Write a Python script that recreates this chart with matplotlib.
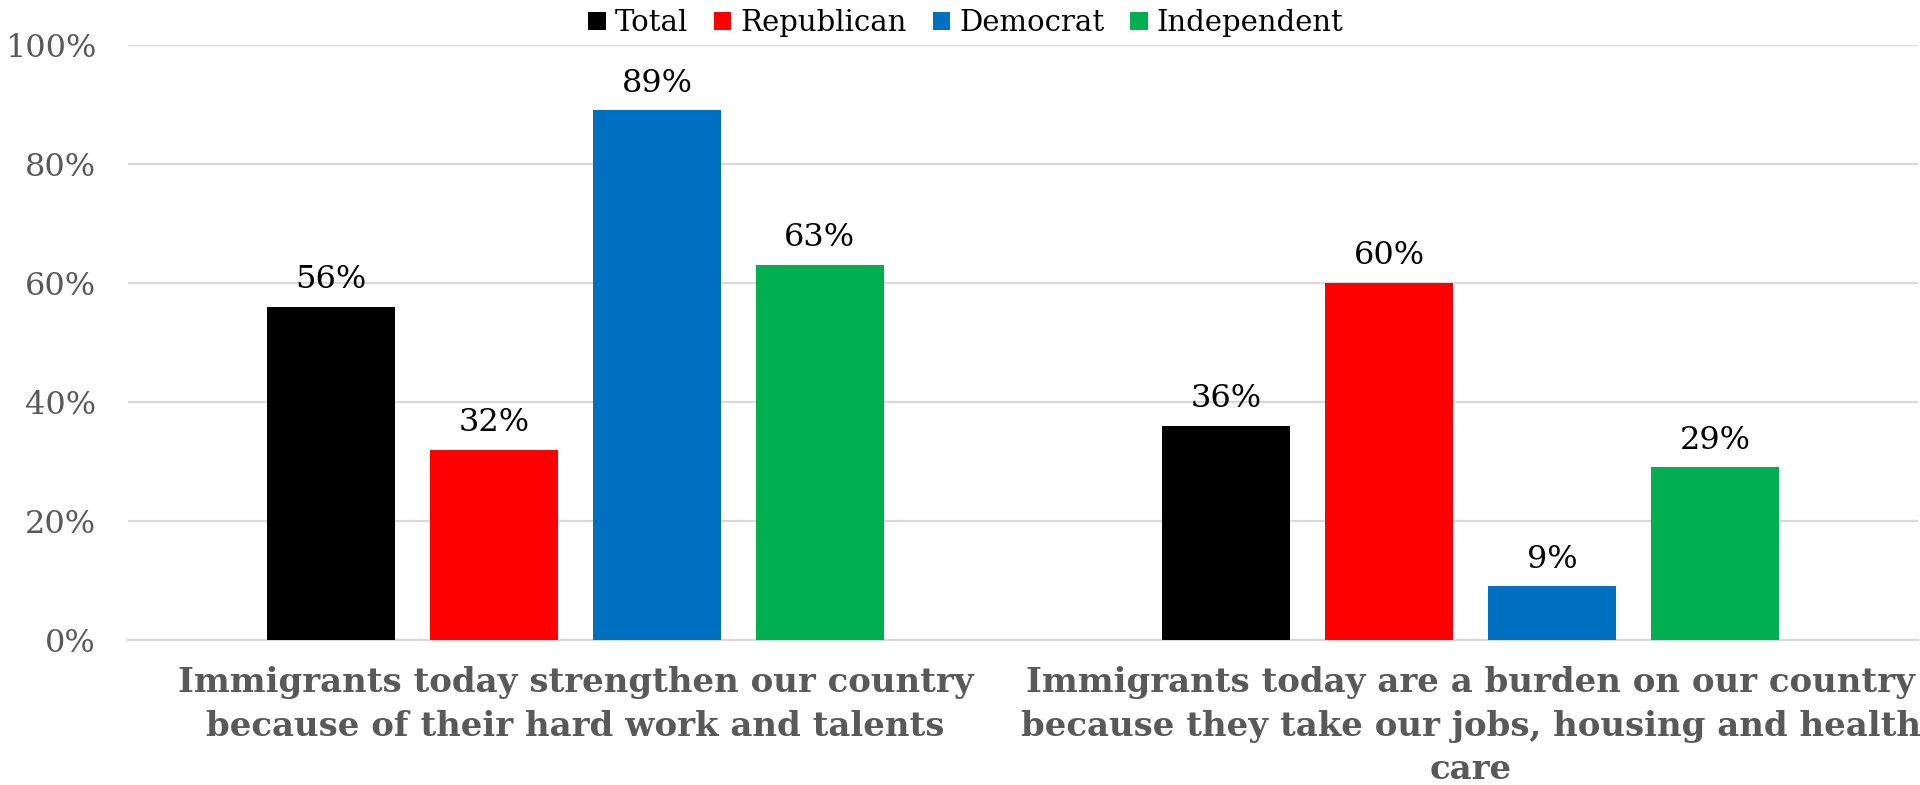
import numpy as np
import matplotlib.pyplot as plt

# ---------------- data ----------------
categories = [
    "Immigrants today strengthen our country\nbecause of their hard work and talents",
    "Immigrants today are a burden on our country\nbecause they take our jobs, housing and health\ncare",
]
series_names = ["Total", "Republican", "Democrat", "Independent"]
total = [56, 36]
republican = [32, 60]
democrat = [89, 9]
independent = [63, 29]
colors = ["#000000", "#ff0000", "#0070c0", "#00b050"]

plt.rcParams['font.family'] = ['DejaVu Serif']

fig = plt.figure(figsize=(19.2, 7.85), dpi=100)
ax = fig.add_axes([0.0667, 0.1847, 0.9323, 0.758])

x = np.arange(len(categories))
width = 0.143
step = 0.182
all_series = [total, republican, democrat, independent]
for i, (name, vals, c) in enumerate(zip(series_names, all_series, colors)):
    pos = x + (i - 1.5) * step
    bars = ax.bar(pos, np.array(vals) / 100, width, color=c, label=name, zorder=3)
    for b, v in zip(bars, vals):
        ax.text(b.get_x() + b.get_width() / 2, b.get_height() + 0.02, f"{v}%",
                ha="center", va="bottom", fontsize=23, color="black")

ax.set_xlim(-0.5, 1.5)
ax.set_ylim(0, 1.0)
ax.set_yticks(np.arange(0, 1.01, 0.2))
ax.set_yticklabels([f"{int(t*100)}%" for t in np.arange(0, 1.01, 0.2)],
                   fontsize=23, color="#595959")
ax.set_xticks(x)
ax.set_xticklabels(categories, fontsize=24.5, fontweight="bold", color="#595959",
                   linespacing=1.4)
ax.tick_params(axis="both", length=0)
ax.tick_params(axis="x", pad=19)
ax.tick_params(axis="y", pad=23)
ax.grid(axis="y", color="#d9d9d9", linewidth=1.6, zorder=0)
for s in ["top", "right", "left"]:
    ax.spines[s].set_visible(False)
ax.spines["bottom"].set_color("#d9d9d9")
ax.spines["bottom"].set_linewidth(1.6)

ax.legend(loc="upper center", bbox_to_anchor=(0.468, 1.08), ncol=4, frameon=False,
          fontsize=21, handlelength=0.6, handleheight=0.6, handletextpad=0.3,
          columnspacing=0.9, borderaxespad=0)

fig.savefig("out.png", dpi=100)
